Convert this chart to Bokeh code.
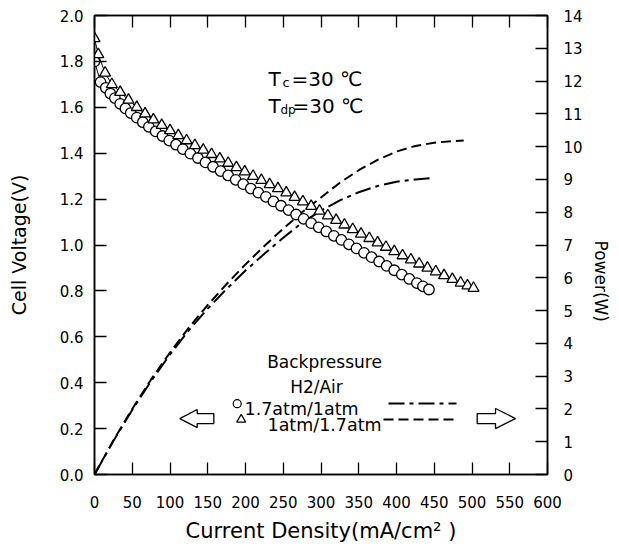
from bokeh.plotting import figure
from bokeh.models import (Range1d, LinearAxis, FixedTicker, Label, ColumnDataSource,
                          CustomJSTickFormatter, Title)
from bokeh.embed import file_html
from bokeh.resources import INLINE

# ---------------- data ----------------
# 1.7atm/1atm (circles) polarization curve
circ_I = [0, 8, 15, 21, 27, 34, 41, 48, 56, 64, 72, 81, 90, 99, 108, 117, 127, 137, 147, 157,
          167, 177, 187, 197, 207, 217, 227, 237, 247, 257, 267, 277, 287, 297, 307, 317, 327,
          337, 347, 357, 367, 377, 387, 397, 407, 417, 427, 435, 443]
circ_V = [1.80, 1.71, 1.685, 1.66, 1.64, 1.615, 1.595, 1.575, 1.555, 1.535, 1.515, 1.495, 1.475,
          1.455, 1.437, 1.418, 1.398, 1.379, 1.360, 1.341, 1.322, 1.303, 1.284, 1.265, 1.246,
          1.228, 1.210, 1.190, 1.171, 1.152, 1.133, 1.114, 1.095, 1.077, 1.059, 1.040, 1.022,
          1.003, 0.985, 0.966, 0.947, 0.928, 0.909, 0.890, 0.871, 0.852, 0.834, 0.820, 0.806]

# 1atm/1.7atm (triangles) polarization curve
tri_I = [0, 5, 14, 23, 34, 45, 56, 67, 78, 89, 100, 111, 122, 133, 144, 155, 166, 177, 188, 199,
         210, 221, 232, 243, 254, 265, 276, 287, 298, 309, 320, 331, 342, 353, 364, 375, 386, 397,
         408, 419, 430, 441, 452, 463, 474, 485, 494, 502]
tri_V = [1.90, 1.83, 1.75, 1.70, 1.666, 1.632, 1.600, 1.572, 1.546, 1.522, 1.499, 1.477, 1.455,
         1.434, 1.414, 1.395, 1.376, 1.357, 1.338, 1.319, 1.300, 1.282, 1.264, 1.246, 1.228,
         1.208, 1.189, 1.169, 1.148, 1.128, 1.108, 1.088, 1.068, 1.048, 1.029, 1.010, 0.991,
         0.972, 0.954, 0.936, 0.918, 0.900, 0.884, 0.867, 0.851, 0.835, 0.823, 0.812]

# Power curves (W)
pw_dd_I = [0, 25, 50, 75, 100, 125, 150, 175, 200, 225, 250, 275, 300, 325, 350, 375, 400, 425, 444]
pw_dd_P = [0, 1.02, 1.97, 2.85, 3.66, 4.40, 5.06, 5.66, 6.22, 6.73, 7.22, 7.68, 8.05, 8.36, 8.61,
           8.80, 8.93, 9.00, 9.04]
pw_da_I = [0, 25, 50, 75, 100, 125, 150, 175, 200, 225, 250, 275, 300, 325, 350, 375, 400, 425,
           450, 475, 489]
pw_da_P = [0, 1.04, 2.00, 2.90, 3.72, 4.48, 5.17, 5.81, 6.41, 6.97, 7.50, 8.00, 8.45, 8.90, 9.28,
           9.60, 9.85, 10.02, 10.12, 10.17, 10.19]

x_ticks = [0, 50, 100, 150, 200, 250, 300, 350, 400, 450, 500, 550, 600]
y_ticks = [0.0, 0.2, 0.4, 0.6, 0.8, 1.0, 1.2, 1.4, 1.6, 1.8, 2.0]
y_tick_labels = ["0.0", "0.2", "0.4", "0.6", "0.8", "1.0", "1.2", "1.4", "1.6", "1.8", "2.0"]
p_ticks = list(range(0, 15))

FONT = "DejaVu Sans"

# ---------------- figure ----------------
p = figure(width=619, height=547, output_backend="svg", toolbar_location=None,
           x_range=Range1d(0, 600), y_range=Range1d(0, 2.0),
           min_border_left=94, min_border_right=72, min_border_top=15, min_border_bottom=73)
p.extra_y_ranges = {"power": Range1d(0, 14)}
p.grid.visible = False
p.outline_line_color = "black"
p.outline_line_width = 1.5
p.background_fill_color = "white"
p.border_fill_color = "white"


def style(ax):
    ax.major_tick_in = 12
    ax.major_tick_out = 0
    ax.minor_tick_line_color = None
    ax.axis_line_width = 1.5
    ax.axis_line_color = "black"
    ax.major_tick_line_width = 1.3
    ax.major_tick_line_color = "black"
    ax.major_label_text_font = FONT
    ax.major_label_text_font_size = "15px"
    ax.major_label_text_color = "black"
    ax.axis_label_text_font = FONT
    ax.axis_label_text_font_style = "normal"
    ax.axis_label_text_color = "black"


xa = p.xaxis[0]
xa.ticker = FixedTicker(ticks=x_ticks)
style(xa)
xa.major_label_standoff = 21
xa.axis_label = "Current Density(mA/cm² )"
xa.axis_label_text_font_size = "21px"
xa.axis_label_standoff = 8

ya = p.yaxis[0]
ya.ticker = FixedTicker(ticks=y_ticks)
ya.major_label_overrides = {t: s for t, s in zip(y_ticks, y_tick_labels)}
style(ya)
ya.major_label_standoff = 11
ya.axis_label = "Cell Voltage(V)"
ya.axis_label_text_font_size = "19px"
ya.axis_label_standoff = 27

ra = LinearAxis(y_range_name="power", ticker=FixedTicker(ticks=p_ticks))
style(ra)
ra.major_label_standoff = 16
p.add_layout(ra, "right")

# right-hand title, placed lower than the frame centre as in the reference
p.add_layout(Title(text="Power(W)", align="left", offset=225, standoff=11,
                   text_font=FONT, text_font_size="17px", text_font_style="normal",
                   text_color="black"), "right")

ta = LinearAxis(ticker=FixedTicker(ticks=x_ticks),
                formatter=CustomJSTickFormatter(code="return ''"))
style(ta)
ta.major_label_standoff = 0
p.add_layout(ta, "above")

# ---------------- glyphs ----------------
src_c = ColumnDataSource(dict(x=circ_I, y=circ_V))
src_t = ColumnDataSource(dict(x=tri_I, y=tri_V))
src_dd = ColumnDataSource(dict(x=pw_dd_I, y=pw_dd_P))
src_da = ColumnDataSource(dict(x=pw_da_I, y=pw_da_P))

DD = "16 5 4 5"
DA = "10 5"

p.line("x", "y", source=src_dd, y_range_name="power", line_color="black", line_width=2,
       line_dash=DD)
p.line("x", "y", source=src_da, y_range_name="power", line_color="black", line_width=2,
       line_dash=DA)

p.line("x", "y", source=src_c, line_color="black", line_width=1)
p.line("x", "y", source=src_t, line_color="black", line_width=1)
p.scatter("x", "y", source=src_c, marker="circle", size=10.5, fill_color="white",
          line_color="black", line_width=1.3)
p.scatter("x", "y", source=src_t, marker="triangle", size=11, fill_color="white",
          line_color="black", line_width=1.3)


# ---------------- annotations (placed by reference pixel position) ----------------
def dx(px):
    return (px - 94) * 600.0 / 453.0


def dy(py):
    return (474 - py) * 2.0 / 457.0


def lab(text, px, py, size, align="left", baseline="alphabetic"):
    p.add_layout(Label(x=dx(px), y=dy(py), text=text, text_font=FONT,
                       text_font_size=f"{size}px", text_align=align,
                       text_baseline=baseline, text_color="black"))


lab("T", 268, 80, 20)
lab("c", 282, 84, 13)
lab("=30 ℃", 291, 80, 20)
lab("T", 268, 107, 20)
lab("dp", 280, 111, 12)
lab("=30 ℃", 292, 107, 20)

lab("Backpressure", 324, 362, 17, "center")
lab("H2/Air", 316, 387, 17, "center")
lab("1.7atm/1atm", 244, 409, 17.5)
lab("1atm/1.7atm", 267, 425, 17.5)

p.scatter([dx(236.7)], [dy(403.5)], marker="circle", size=8, fill_color="white",
          line_color="black", line_width=1.2)
p.scatter([dx(240.7)], [dy(419.3)], marker="triangle", size=9, fill_color="white",
          line_color="black", line_width=1.2)
p.line([dx(388), dx(456)], [dy(403.3), dy(403.3)], line_color="black", line_width=2,
       line_dash=DD)
p.line([dx(383), dx(456)], [dy(419.3), dy(419.3)], line_color="black", line_width=2,
       line_dash=DA)

left_arrow = [(179.3, 418.3), (196.7, 409.3), (196.7, 413.3), (213.3, 413.3),
              (213.3, 423.3), (196.7, 423.3), (196.7, 427.3)]
right_arrow = [(515.0, 418.3), (495.0, 408.3), (495.0, 413.3), (476.7, 413.3),
               (476.7, 423.3), (495.0, 423.3), (495.0, 428.3)]
for arr in (left_arrow, right_arrow):
    p.patch([dx(a) for a, b in arr], [dy(b) for a, b in arr], fill_color="white",
            line_color="black", line_width=1.3)

open("out.html", "w").write(file_html(p, INLINE))
